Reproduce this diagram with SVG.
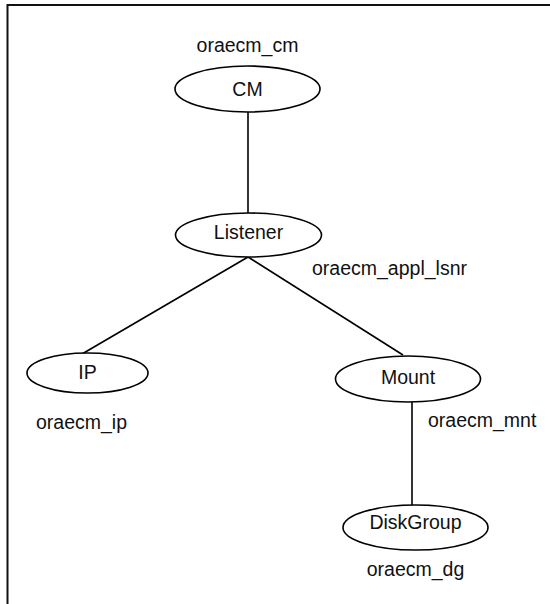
<svg xmlns="http://www.w3.org/2000/svg" width="550" height="604" viewBox="0 0 550 604">
  <style>
    .frame { fill: none; stroke: #111; stroke-width: 2; }
    .node ellipse { fill: #fff; stroke: #000; stroke-width: 1.6; }
    .node text, .lbl { font-family: "Liberation Sans", Arial, sans-serif; font-size: 19.5px; fill: #111; }
    .node text.name { text-anchor: middle; }
    .edges line { stroke: #000; stroke-width: 1.6; }
  </style>
  <rect fill="#fff" x="0" y="0" width="550" height="604"/>
  <!-- outer frame, open on the right and bottom -->
  <path class="frame" d="M7.5 604 V5 H550"/>

  <g class="edges" id="connectors">
    <line x1="248" y1="112" x2="248" y2="213"/>
    <line x1="248" y1="257" x2="82" y2="354"/>
    <line x1="248" y1="257" x2="403" y2="355"/>
    <line x1="412" y1="402" x2="412" y2="505"/>
  </g>

  <g class="node" id="cm">
    <ellipse cx="247.5" cy="89" rx="72.5" ry="23"/>
    <text class="name" x="247.5" y="96">CM</text>
    <text class="name" x="247.5" y="52">oraecm_cm</text>
  </g>

  <g class="node" id="listener">
    <ellipse cx="248.5" cy="235" rx="73" ry="22"/>
    <text class="name" x="248.5" y="239">Listener</text>
    <text x="312" y="275">oraecm_appl_lsnr</text>
  </g>

  <g class="node" id="ip">
    <ellipse cx="87.5" cy="373" rx="60.5" ry="20"/>
    <text class="name" x="87.5" y="379">IP</text>
    <text x="36" y="429">oraecm_ip</text>
  </g>

  <g class="node" id="mount">
    <ellipse cx="408" cy="379" rx="72.5" ry="23"/>
    <text class="name" x="408" y="384">Mount</text>
    <text x="428" y="427">oraecm_mnt</text>
  </g>

  <g class="node" id="diskgroup">
    <ellipse cx="415.5" cy="527.5" rx="72.5" ry="22.5"/>
    <text class="name" x="415.5" y="529">DiskGroup</text>
    <text class="name" x="415.5" y="576">oraecm_dg</text>
  </g>
</svg>
